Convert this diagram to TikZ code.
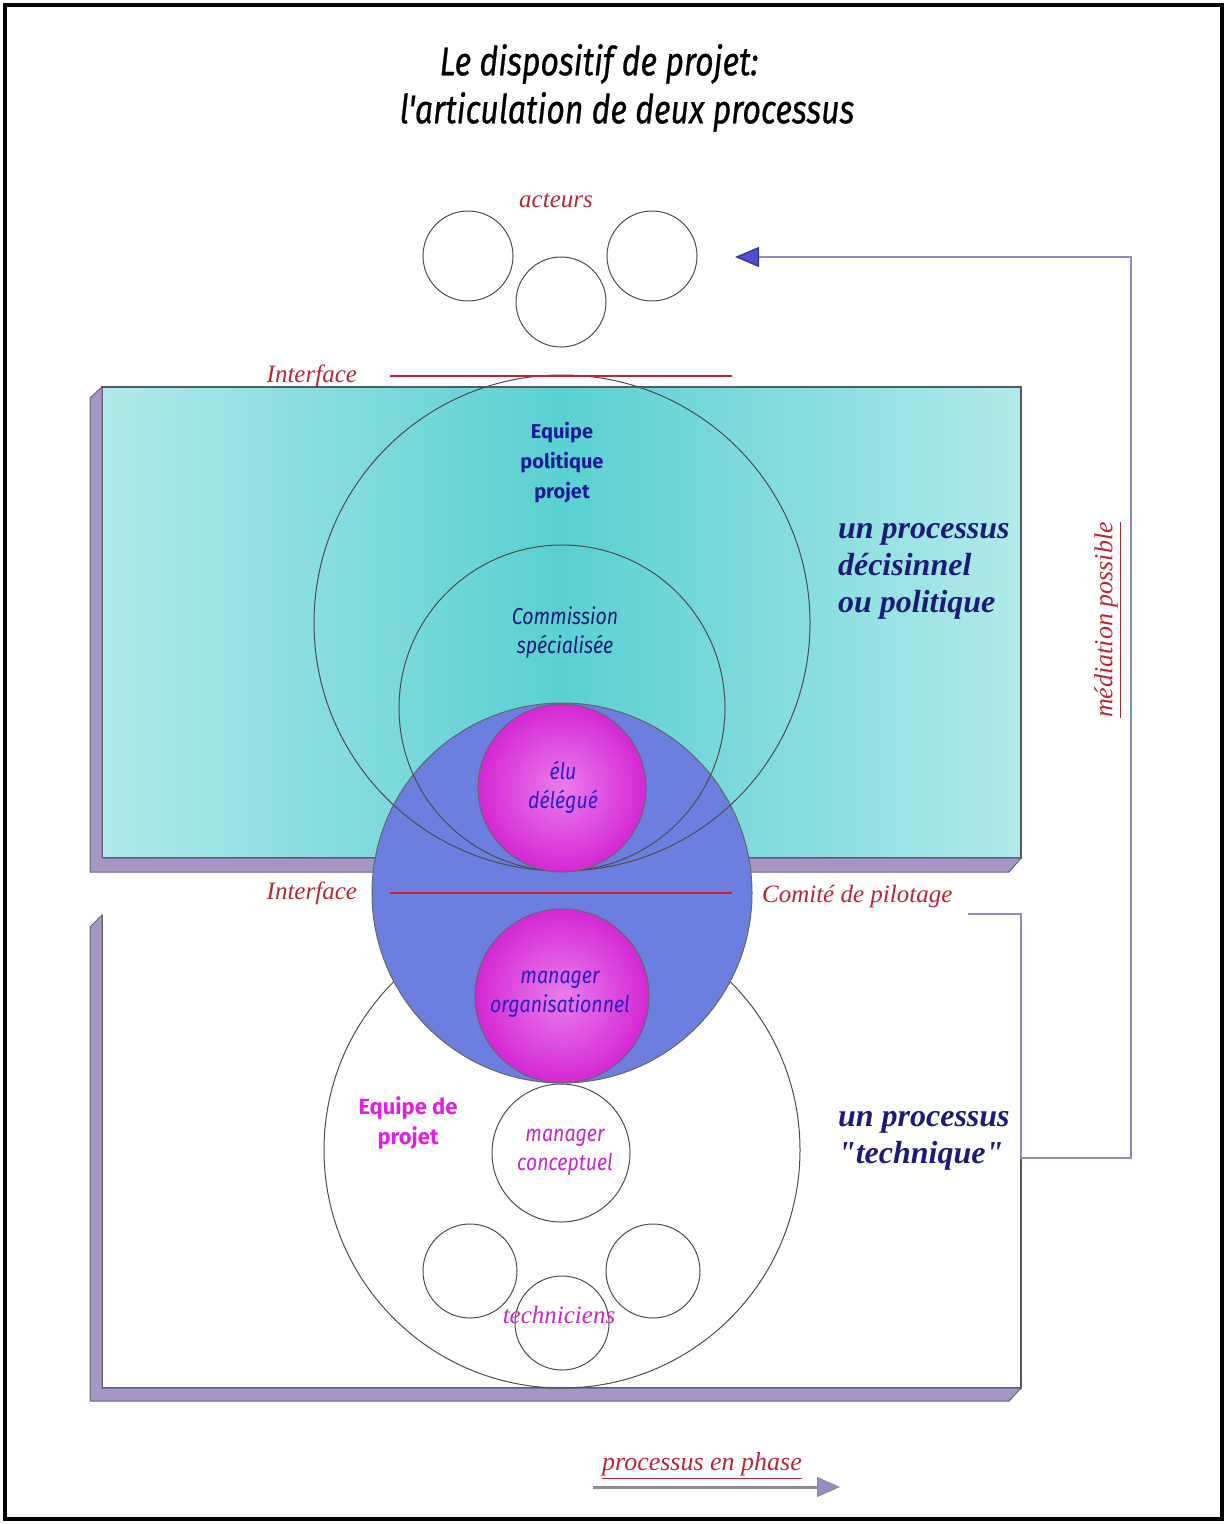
\documentclass[tikz,border=0pt]{standalone}
\usepackage{fontspec}
\setmainfont{Liberation Serif}[Ligatures=TeXOff]
\newfontfamily\condfont[FakeStretch=0.85]{Fira Sans}
\newfontfamily\titlefont[FakeStretch=0.8,FakeBold=0.6]{Fira Sans}
\newfontfamily\boldsans{Fira Sans}
\usepackage{tikz}
\usetikzlibrary{arrows.meta}

\definecolor{cyanmid}{RGB}{90,208,210}
\definecolor{cyanlight}{RGB}{178,234,234}
\definecolor{lavstrip}{RGB}{165,150,200}
\definecolor{stripedge}{RGB}{105,95,125}
\definecolor{blueball}{RGB}{108,126,222}
\definecolor{magin}{RGB}{234,125,234}
\definecolor{magout}{RGB}{212,40,212}
\definecolor{redtxt}{RGB}{185,40,50}
\definecolor{redline}{RGB}{205,30,45}
\definecolor{navytxt}{RGB}{28,28,120}
\definecolor{eqtxt}{RGB}{26,26,150}
\definecolor{bluetxt}{RGB}{45,30,195}
\definecolor{magtxt}{RGB}{200,40,200}
\definecolor{pinktxt}{RGB}{225,30,225}
\definecolor{linkgray}{RGB}{140,140,190}
\definecolor{arrowblue}{RGB}{80,80,210}
\definecolor{phasetip}{RGB}{154,138,200}

\begin{document}
\begin{tikzpicture}[x=0.5pt,y=-0.5pt,
    ring/.style={circle,draw=black!70,line width=0.5pt,inner sep=0pt,outer sep=0pt,minimum size=#1pt},
    ball/.style={ring=#1,inner color=magin,outer color=magout,draw=black!60},
    strip/.style={fill=lavstrip,draw=stripedge,line width=0.5pt},
    frame/.style={draw=black!65,line width=0.6pt},
    ifline/.style={draw=redline,line width=0.8pt},
    redlbl/.style={text=redtxt,font=\itshape\fontsize{12.5}{15}\selectfont},
    condtxt/.style={align=center,font=\condfont\itshape\fontsize{11.5}{14.5}\selectfont},
    boldtxt/.style={align=center,font=\boldsans\bfseries\fontsize{10}{15}\selectfont},
    proctxt/.style={anchor=west,align=left,text=navytxt,font=\bfseries\itshape\fontsize{16}{18.5}\selectfont},
    titletxt/.style={font=\titlefont\itshape\fontsize{20}{24}\selectfont},
    medline/.style={draw=linkgray,line width=0.75pt,
      -{Triangle[length=12pt,width=10pt,fill=arrowblue,color=arrowblue!70!black]}},
    phasearrow/.style={draw=black!45,line width=1.5pt,
      -{Triangle[length=11.5pt,width=10pt,fill=phasetip,color=black!45,line width=0.5pt]}}]

  \useasboundingbox (0,0) rectangle (1227,1524);
  \draw[line width=2pt] (5,5) rectangle (1222,1519);

  % titre
  \node[titletxt] (title1) at (599,64) {Le dispositif de projet:};
  \node[titletxt] (title2) at (627,112) {l'articulation de deux processus};

  % panneau du haut
  \shade[left color=cyanlight,right color=cyanlight,middle color=cyanmid] (102,387) rectangle (1021,858);
  \draw[frame] (102,387) rectangle (1021,858);
  \filldraw[strip] (90,398) -- (102,387) -- (102,858) -- (1021,858) -- (1009,872) -- (90,872) -- cycle;

  % panneau du bas
  \draw[frame] (102,915) -- (102,1388) -- (1021,1388) -- (1021,914);
  \filldraw[strip] (90,927) -- (102,915) -- (102,1388) -- (1021,1388) -- (1009,1401) -- (90,1401) -- cycle;

  % acteurs
  \node[ring=45] (act1) at (468,256) {};
  \node[ring=45] (act2) at (561,302) {};
  \node[ring=45] (act3) at (652,256) {};

  % equipe de projet
  \node[ring=238] (eqproj) at (562,1150) {};
  \node[ring=69] (mgcon) at (561,1153) {};
  \node[ring=47] (tech1) at (470,1271) {};
  \node[ring=47] (tech2) at (562,1323) {};
  \node[ring=47] (tech3) at (653,1271) {};

  % comite de pilotage
  \node[ring=190,fill=blueball,draw=black!60] (comite) at (562,893) {};
  \node[ring=248] (eqpol) at (562,623) {};
  \node[ring=163] (comm) at (562,708) {};
  \node[ball=84] (elu) at (562,788) {};
  \node[ball=87] (mgorg) at (562,996) {};

  % interfaces
  \draw[ifline] (390,376) -- (732,376);
  \draw[ifline] (390,893) -- (732,893);
  \node[redlbl,anchor=east] (iface1) at (364,376) {Interface};
  \node[redlbl,anchor=east] (iface2) at (364,893) {Interface};
  \node[redlbl,anchor=west] (comitelbl) at (755,896) {Comité de pilotage};
  \node[redlbl] (acteurs) at (556,201) {acteurs};

  % textes des cercles
  \node[boldtxt,text=eqtxt] (eqpollbl) at (562,463) {Equipe\\politique\\projet};
  \node[condtxt,text=navytxt] (commlbl) at (565,633) {Commission\\spécialisée};
  \node[condtxt,text=bluetxt] (elulbl) at (563,787) {élu\\délégué};
  \node[condtxt,text=bluetxt] (mgorglbl) at (560,994) {manager\\organisationnel};
  \node[condtxt,text=magtxt] (mgconlbl) at (565,1152) {manager\\conceptuel};
  \node[redlbl,text=magtxt] (techlbl) at (559,1315) {techniciens};
  \node[boldtxt,text=pinktxt,font=\boldsans\bfseries\fontsize{11}{15}\selectfont] (eqprojlbl) at (408,1123) {Equipe de\\projet};

  \node[proctxt] (proc1) at (831,571) {un processus\\décisinnel\\ou politique};
  \node[proctxt] (proc2) at (831,1141) {un processus\\"technique"};

  % mediation
  \coordinate (medfrom) at (968,914);
  \coordinate (medto) at (735,257);
  \draw[medline] (medfrom) -| (1021,1158) -| (1131,257) -- (medto);
  \node[redlbl,rotate=90,font=\itshape\fontsize{13}{15}\selectfont] (medlbl) at (1108,620) {\underline{médiation possible}};

  % processus en phase
  \node[redlbl,font=\itshape\fontsize{13}{15}\selectfont] (phase) at (702,1466) {\underline{processus en phase}};
  \coordinate (phasefrom) at (593,1487);
  \coordinate (phaseto) at (840,1487);
  \draw[phasearrow] (phasefrom) -- (phaseto);
\end{tikzpicture}
\end{document}
